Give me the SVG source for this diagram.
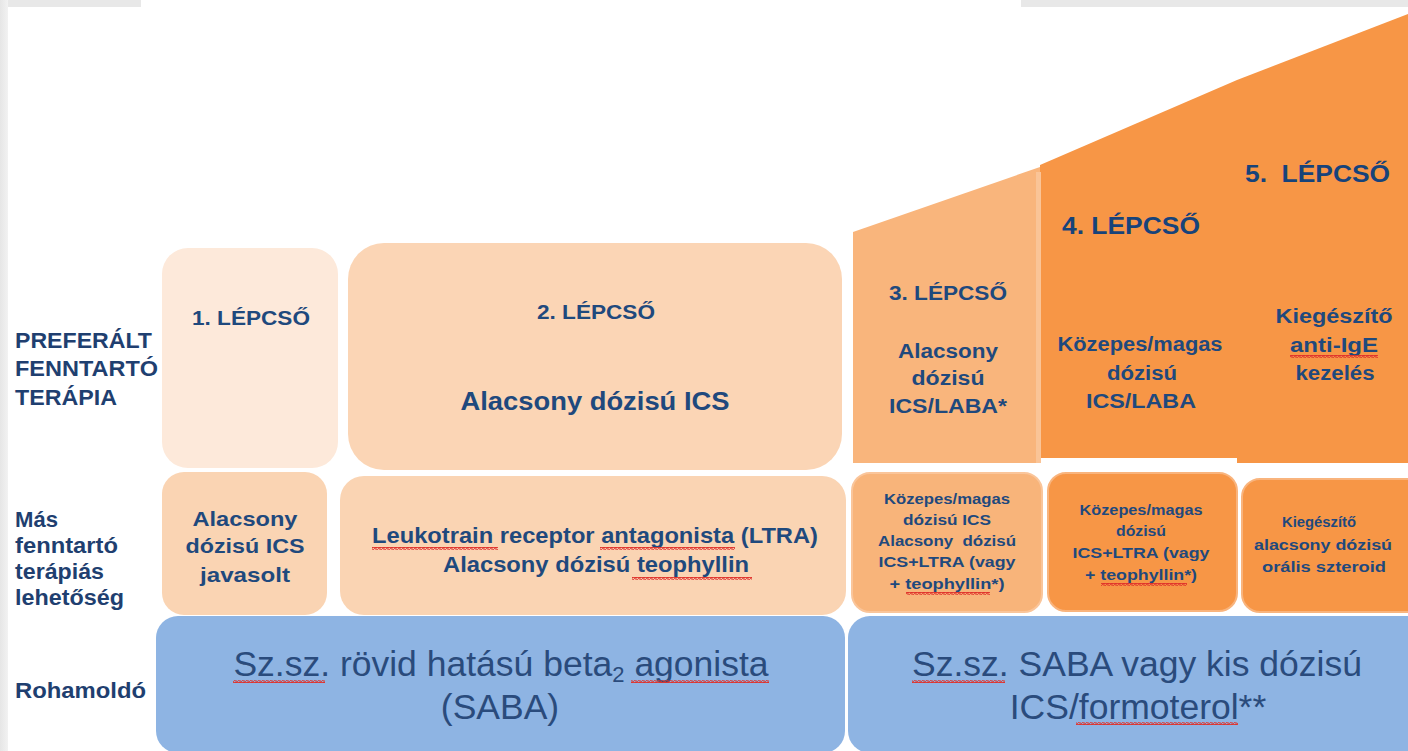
<svg xmlns="http://www.w3.org/2000/svg" width="1408" height="751" viewBox="0 0 1408 751">
<defs>
<pattern id="sq" width="4" height="3" patternUnits="userSpaceOnUse">
<path d="M0,2.5 L1,0.5 L3,2.5 L4,0.5" fill="none" stroke="#E0312B" stroke-width="1.2"/>
</pattern>
<linearGradient id="edge" x1="0" y1="0" x2="1" y2="0">
<stop offset="0" stop-color="#E6E6E6"/><stop offset="1" stop-color="#F2F2F2"/>
</linearGradient>
</defs>
<style>
text{font-family:"Liberation Sans",Arial,sans-serif;fill:#1F497D}
.b{font-weight:bold}
.lbl{font-weight:bold;font-size:22px;fill:#1F3F70}
.c{text-anchor:middle}
.st{font-weight:bold;font-size:21px}
.big{font-weight:bold;font-size:23px;fill:#17437A}
.m{font-weight:bold;font-size:20px}
.s{font-weight:bold;font-size:14px}
.blue{font-size:35.5px;fill:#2A4B7C}
.sq{fill:url(#sq)}
</style>
<rect x="0" y="0" width="1408" height="751" fill="#E8E8E8"/>
<rect x="0" y="0" width="8" height="751" fill="url(#edge)"/>
<rect x="8" y="7" width="1400" height="744" fill="#FFFFFF"/>
<rect x="141" y="0" width="880" height="7" fill="#FFFFFF"/>

<g id="labels">
<text class="lbl" x="15" y="348" textLength="137" lengthAdjust="spacingAndGlyphs">PREFERÁLT</text>
<text class="lbl" x="15" y="376" textLength="143" lengthAdjust="spacingAndGlyphs">FENNTARTÓ</text>
<text class="lbl" x="15" y="405" textLength="102" lengthAdjust="spacingAndGlyphs">TERÁPIA</text>
<text class="lbl" x="15" y="527" textLength="43" lengthAdjust="spacingAndGlyphs">Más</text>
<text class="lbl" x="15" y="553" textLength="103" lengthAdjust="spacingAndGlyphs">fenntartó</text>
<text class="lbl" x="15" y="579" textLength="89" lengthAdjust="spacingAndGlyphs">terápiás</text>
<text class="lbl" x="15" y="605" textLength="109" lengthAdjust="spacingAndGlyphs">lehetőség</text>
<text class="lbl" x="15" y="698" textLength="131" lengthAdjust="spacingAndGlyphs">Rohamoldó</text>
</g>

<g id="step5">
<polygon points="1237,80 1408,14 1408,463 1237,463" fill="#F79646"/>
<text class="big" x="1245" y="182" textLength="145" lengthAdjust="spacingAndGlyphs">5.&#160; LÉPCSŐ</text>
<text class="m c" x="1334" y="323" textLength="117" lengthAdjust="spacingAndGlyphs">Kiegészítő</text>
<text class="m c" x="1334" y="352" textLength="88" lengthAdjust="spacingAndGlyphs">anti-IgE</text>
<text class="m c" x="1335" y="380" textLength="79" lengthAdjust="spacingAndGlyphs">kezelés</text>
<rect class="sq" x="1290" y="355" width="88" height="3"/>
</g>

<g id="step4">
<polygon points="1040,165 1237,80 1237,458 1040,458" fill="#F79646"/>
<text class="big" x="1062" y="234" textLength="138" lengthAdjust="spacingAndGlyphs">4. LÉPCSŐ</text>
<text class="m c" x="1140" y="351" textLength="165" lengthAdjust="spacingAndGlyphs">Közepes/magas</text>
<text class="m c" x="1142" y="380" textLength="70" lengthAdjust="spacingAndGlyphs">dózisú</text>
<text class="m c" x="1141" y="408" textLength="110" lengthAdjust="spacingAndGlyphs">ICS/LABA</text>
</g>

<g id="step3">
<polygon points="853,232 1040,167 1040,463 853,463" fill="#F9B57C"/>
<rect x="1036" y="172" width="5" height="291" fill="#FAC497"/>
<text class="st c" x="948" y="300" textLength="118" lengthAdjust="spacingAndGlyphs">3. LÉPCSŐ</text>
<text class="m c" x="948" y="358" textLength="100" lengthAdjust="spacingAndGlyphs">Alacsony</text>
<text class="m c" x="948" y="385" textLength="73" lengthAdjust="spacingAndGlyphs">dózisú</text>
<text class="m c" x="948" y="413" textLength="118" lengthAdjust="spacingAndGlyphs">ICS/LABA*</text>
</g>

<g id="step1">
<rect x="162" y="248" width="176" height="220" rx="26" fill="#FDE9DA"/>
<text class="st c" x="251" y="325" textLength="118" lengthAdjust="spacingAndGlyphs">1. LÉPCSŐ</text>
</g>

<g id="step2">
<rect x="348" y="243" width="494" height="227" rx="36" fill="#FBD5B5"/>
<text class="st c" x="596" y="319" textLength="118" lengthAdjust="spacingAndGlyphs">2. LÉPCSŐ</text>
<text class="c b" style="font-size:26px" x="595" y="410" textLength="269" lengthAdjust="spacingAndGlyphs">Alacsony dózisú ICS</text>
</g>

<g id="other1">
<rect x="162" y="472" width="165" height="143" rx="22" fill="#FAD4B3"/>
<text class="st c" x="245" y="526" textLength="105" lengthAdjust="spacingAndGlyphs">Alacsony</text>
<text class="st c" x="245" y="553" textLength="119" lengthAdjust="spacingAndGlyphs">dózisú ICS</text>
<text class="st c" x="245" y="582" textLength="90" lengthAdjust="spacingAndGlyphs">javasolt</text>
</g>

<g id="other2">
<rect x="340" y="476" width="506" height="139" rx="24" fill="#FAD4B3"/>
<text class="c b" style="font-size:22px" x="595" y="543" textLength="446" lengthAdjust="spacingAndGlyphs">Leukotrain receptor antagonista (LTRA)</text>
<text class="c b" style="font-size:22px" x="596" y="572" textLength="306" lengthAdjust="spacingAndGlyphs">Alacsony dózisú teophyllin</text>
<rect class="sq" x="372" y="547" width="126" height="3"/>
<rect class="sq" x="600" y="547" width="135" height="3"/>
<rect class="sq" x="632" y="577" width="120" height="3"/>
</g>

<g id="other3">
<rect x="852" y="473" width="190" height="139" rx="18" fill="#F8B47A" stroke="#FAC59A" stroke-width="2"/>
<text class="s c" x="947" y="504" textLength="126" lengthAdjust="spacingAndGlyphs">Közepes/magas</text>
<text class="s c" x="947" y="525" textLength="88" lengthAdjust="spacingAndGlyphs">dózisú ICS</text>
<text class="s c" x="947" y="546" textLength="138" lengthAdjust="spacingAndGlyphs">Alacsony&#160; dózisú</text>
<text class="s c" x="947" y="567" textLength="137" lengthAdjust="spacingAndGlyphs">ICS+LTRA (vagy</text>
<text class="s c" x="947" y="589" textLength="115" lengthAdjust="spacingAndGlyphs">+ teophyllin*)</text>
<rect class="sq" x="906" y="592" width="84" height="3"/>
</g>

<g id="other4">
<rect x="1048" y="473" width="189" height="138" rx="18" fill="#F79646" stroke="#F9B47D" stroke-width="2"/>
<text class="s c" x="1141" y="515" textLength="123" lengthAdjust="spacingAndGlyphs">Közepes/magas</text>
<text class="s c" x="1141" y="536" textLength="50" lengthAdjust="spacingAndGlyphs">dózisú</text>
<text class="s c" x="1141" y="558" textLength="137" lengthAdjust="spacingAndGlyphs">ICS+LTRA (vagy</text>
<text class="s c" x="1141" y="580" textLength="112" lengthAdjust="spacingAndGlyphs">+ teophyllin*)</text>
<rect class="sq" x="1101" y="583" width="86" height="3"/>
</g>

<g id="other5">
<rect x="1242" y="479" width="190" height="133" rx="18" fill="#F79646" stroke="#F9B47D" stroke-width="2"/>
<text class="s c" x="1319" y="527" textLength="74" lengthAdjust="spacingAndGlyphs">Kiegészítő</text>
<text class="s c" x="1323" y="550" textLength="138" lengthAdjust="spacingAndGlyphs">alacsony dózisú</text>
<text class="s c" x="1324" y="572" textLength="124" lengthAdjust="spacingAndGlyphs">orális szteroid</text>
</g>

<g id="reliever1">
<rect x="156" y="616" width="689" height="137" rx="22" fill="#8EB4E3"/>
<text class="blue c" x="501" y="676">Sz.sz. rövid hatású beta<tspan style="font-size:22px" dy="6">2</tspan><tspan dy="-6"> agonista</tspan></text>
<text class="blue c" x="500" y="719">(SABA)</text>
<rect class="sq" x="233" y="680" width="92" height="3"/>
<rect class="sq" x="631" y="680" width="138" height="3"/>
</g>

<g id="reliever2">
<rect x="848" y="616" width="580" height="137" rx="22" fill="#8EB4E3"/>
<text class="blue c" x="1137" y="676">Sz.sz. SABA vagy kis dózisú</text>
<text class="blue c" x="1138" y="719">ICS/formoterol**</text>
<rect class="sq" x="912" y="680" width="93" height="3"/>
<rect class="sq" x="1076" y="722" width="162" height="3"/>
</g>

<g id="connectors"></g>
</svg>
